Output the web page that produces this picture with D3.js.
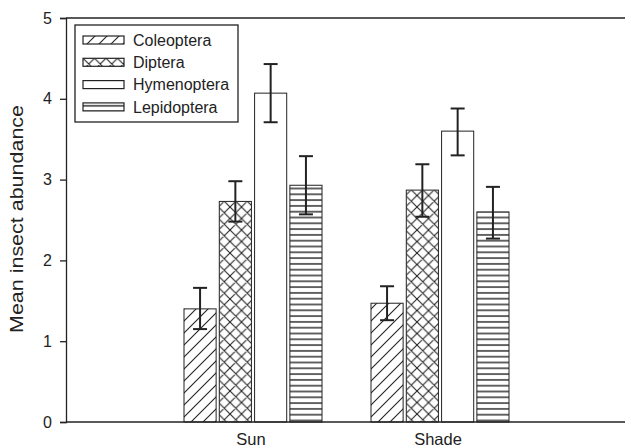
<!DOCTYPE html>
<html>
<head>
<meta charset="utf-8">
<script src="https://cdn.jsdelivr.net/npm/d3@7"></script>
<style>
  body { margin: 0; background: #fff; }
  svg { display: block; font-family: "Liberation Sans", Arial, sans-serif; }
</style>
</head>
<body>
<svg id="chart" width="625" height="448"></svg>
<script>
// data
const sites = ["Sun", "Shade"];
const orders = ["Coleoptera", "Diptera", "Hymenoptera", "Lepidoptera"];
const means = [
  [1.40, 2.73, 4.07, 2.93],   // Sun
  [1.47, 2.87, 3.60, 2.60]    // Shade
];
const errLow = [
  [1.15, 2.48, 3.71, 2.57],
  [1.26, 2.54, 3.30, 2.27]
];
const errHigh = [
  [1.66, 2.98, 4.43, 3.29],
  [1.68, 3.19, 3.88, 2.91]
];
const yTicks = [0, 1, 2, 3, 4, 5];

const svg = d3.select("#chart");
const ink = "#222";

const padL = 66, padR = 627, padT = 18, padB = 422;

const x = d3.scaleLinear().domain([0, 3]).range([padL, padR]);
const y = d3.scaleLinear().domain([0, 5]).range([padB, padT]);
const inner = d3.scaleBand().domain(orders).range([-69, 69]).paddingInner(0.09);

// fill patterns
const defs = svg.append("defs");
function pat(id, w, h, d, sw) {
  const p = defs.append("pattern").attr("id", id)
    .attr("patternUnits", "userSpaceOnUse").attr("width", w).attr("height", h);
  p.append("rect").attr("width", w).attr("height", h).attr("fill", "#fff");
  if (d) p.append("path").attr("d", d).attr("stroke", ink).attr("stroke-width", sw).attr("fill", "none");
}
pat("p0", 12, 12, "M0,12L12,0M-3,3L3,-3M9,15L15,9", 1.1);
pat("p1", 11.5, 11.5, "M0,0L11.5,11.5M0,11.5L11.5,0M-2,2L2,-2M9.5,13.5L13.5,9.5M-2,9.5L2,13.5M9.5,-2L13.5,2", 1.1);
pat("p2", 10, 10, null, 0);
pat("p3", 6, 5.8, "M-1,2.9L7,2.9", 1.4);
const fills = { Coleoptera: "url(#p0)", Diptera: "url(#p1)", Hymenoptera: "url(#p2)", Lepidoptera: "url(#p3)" };

// frame: top line
svg.append("line").attr("x1", padL).attr("x2", 625).attr("y1", y(5)).attr("y2", y(5))
  .attr("stroke", ink).attr("stroke-width", 1.3);

// bars
const groups = svg.selectAll("g.site").data(sites).enter().append("g")
  .attr("class", "site")
  .attr("transform", (d, i) => `translate(${x(i + 1)},0)`);

groups.each(function(site, si) {
  const g = d3.select(this);
  const rows = orders.map((o, k) => ({ o, v: means[si][k], lo: errLow[si][k], hi: errHigh[si][k] }));
  g.selectAll("rect").data(rows).enter().append("rect")
    .attr("x", d => inner(d.o))
    .attr("y", d => y(d.v))
    .attr("width", inner.bandwidth())
    .attr("height", d => y(0) - y(d.v))
    .attr("fill", d => fills[d.o])
    .attr("stroke", ink).attr("stroke-width", 1);

  const eb = g.selectAll("g.err").data(rows).enter().append("g").attr("class", "err")
    .attr("stroke", ink).attr("stroke-width", 2);
  const cx = d => inner(d.o) + inner.bandwidth() / 2;
  eb.append("line").attr("x1", cx).attr("x2", cx).attr("y1", d => y(d.lo)).attr("y2", d => y(d.hi));
  eb.append("line").attr("x1", d => cx(d) - 7).attr("x2", d => cx(d) + 7).attr("y1", d => y(d.hi)).attr("y2", d => y(d.hi));
  eb.append("line").attr("x1", d => cx(d) - 7).attr("x2", d => cx(d) + 7).attr("y1", d => y(d.lo)).attr("y2", d => y(d.lo));
});

// y axis
const yAxis = svg.append("g").attr("transform", `translate(${padL},0)`)
  .call(d3.axisLeft(y).tickValues(yTicks).tickSize(6).tickPadding(8).tickFormat(d3.format("d")));
yAxis.selectAll("path, line").attr("stroke", ink).attr("stroke-width", 1.3);
yAxis.selectAll("text").attr("font-size", 16).attr("fill", ink);
yAxis.attr("font-family", null);

// x axis
svg.append("line").attr("x1", padL).attr("x2", 625).attr("y1", y(0)).attr("y2", y(0))
  .attr("stroke", ink).attr("stroke-width", 1.3);
svg.selectAll("text.xl").data(sites).enter().append("text")
  .attr("class", "xl")
  .attr("x", (d, i) => x(i + 1) - 2)
  .attr("y", 445)
  .attr("text-anchor", "middle")
  .attr("font-size", 16.5).attr("fill", ink)
  .text(d => d);

// y label
svg.append("text")
  .attr("transform", "translate(23,219) rotate(-90)")
  .attr("text-anchor", "middle")
  .attr("font-size", 17.5).attr("fill", ink)
  .attr("textLength", 228).attr("lengthAdjust", "spacingAndGlyphs")
  .text("Mean insect abundance");

// legend
const lg = svg.append("g").attr("transform", "translate(75,25)");
lg.append("rect").attr("width", 163).attr("height", 97)
  .attr("fill", "#fff").attr("stroke", ink).attr("stroke-width", 1.3);
const item = lg.selectAll("g.item").data(orders).enter().append("g")
  .attr("class", "item")
  .attr("transform", (d, i) => `translate(8,${11 + i * 22.3})`);
item.append("rect").attr("width", 41).attr("height", 8)
  .attr("fill", d => fills[d]).attr("stroke", ink).attr("stroke-width", 1.2);
item.append("text").attr("x", 50).attr("y", 4).attr("dy", "0.35em")
  .attr("font-size", 16).attr("fill", ink)
  .text(d => d);
</script>
</body>
</html>
